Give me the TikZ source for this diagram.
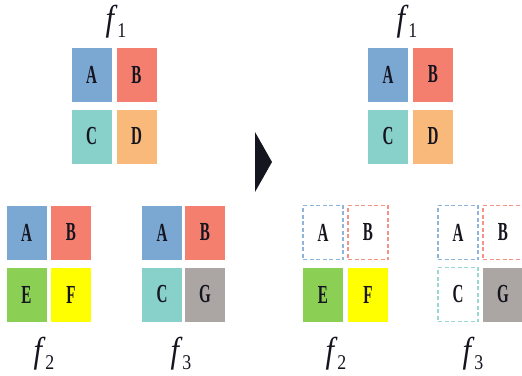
\documentclass[tikz,border=0pt]{standalone}
\usepackage{fontspec}
\setmainfont{Liberation Serif}
\usepackage{graphicx}
\definecolor{cA}{HTML}{7BA7D3}
\definecolor{cB}{HTML}{F47F6F}
\definecolor{cC}{HTML}{88D0CA}
\definecolor{cD}{HTML}{F9B97B}
\definecolor{cE}{HTML}{8BCF55}
\definecolor{cF}{HTML}{FFFF00}
\definecolor{cG}{HTML}{ABA6A3}
\definecolor{ink}{HTML}{151520}
\newcommand{\lt}[1]{\scalebox{0.58}[1]{\textbf{#1}}}
\newcommand{\fl}[1]{\scalebox{0.85}[1]{\fontsize{36}{36}\selectfont\textit{f}\kern-0.5pt\raisebox{-7pt}{\fontsize{21}{21}\selectfont #1}}}
\tikzset{
  cell/.style={minimum width=40pt, minimum height=54pt, inner sep=0pt, text=ink,
    font=\fontsize{26}{26}\selectfont},
  full/.style={cell, fill=#1},
  dashcell/.style={cell, draw=#1!85, dash pattern=on 4pt off 2.5pt, line width=1.1pt},
  flabel/.style={inner sep=0pt, anchor=base, text=ink}
}
\begin{document}
\begin{tikzpicture}[x=1pt,y=-1pt]
\useasboundingbox (0,0) rectangle (522,375);
% left f1
\node[flabel] (lf1) at (116,30) {\fl{1}};
\node[full=cA] (lA) at (91.5,75) {\lt{A}};
\node[full=cB] (lB) at (136.5,75) {\lt{B}};
\node[full=cC] (lC) at (91.5,136.5) {\lt{C}};
\node[full=cD] (lD) at (136.5,136.5) {\lt{D}};
% right f1
\node[flabel] (rf1) at (407,30) {\fl{1}};
\node[full=cA] (rA) at (388,74.5) {\lt{A}};
\node[full=cB] (rB) at (433,74.5) {\lt{B}};
\node[full=cC] (rC) at (388,136.5) {\lt{C}};
\node[full=cD] (rD) at (433,136.5) {\lt{D}};
% left f2
\node[full=cA] (l2A) at (26.5,232.5) {\lt{A}};
\node[full=cB] (l2B) at (71,232.5) {\lt{B}};
\node[full=cE] (l2E) at (26.5,294.5) {\lt{E}};
\node[full=cF] (l2F) at (71,294.5) {\lt{F}};
\node[flabel] (lf2) at (44,362) {\fl{2}};
% left f3
\node[full=cA] (l3A) at (162,232.5) {\lt{A}};
\node[full=cB] (l3B) at (205,232.5) {\lt{B}};
\node[full=cC] (l3C) at (162,294.5) {\lt{C}};
\node[full=cG] (l3G) at (205,294.5) {\lt{G}};
\node[flabel] (lf3) at (181,362) {\fl{3}};
% arrow
\fill[ink] (255,132) -- (272,162) -- (255,192) -- cycle;
% right f2
\node[dashcell=cA] (r2A) at (323,232.5) {\lt{A}};
\node[dashcell=cB] (r2B) at (368,232.5) {\lt{B}};
\node[full=cE] (r2E) at (323,294.5) {\lt{E}};
\node[full=cF] (r2F) at (368,294.5) {\lt{F}};
\node[flabel] (rf2) at (336,362) {\fl{2}};
% right f3
\node[dashcell=cA] (r3A) at (458,232.5) {\lt{A}};
\node[dashcell=cB] (r3B) at (503,232.5) {\lt{B}};
\node[dashcell=cC] (r3C) at (458,294.5) {\lt{C}};
\node[full=cG] (r3G) at (503,294.5) {\lt{G}};
\node[flabel] (rf3) at (473,362) {\fl{3}};
\end{tikzpicture}
\end{document}
